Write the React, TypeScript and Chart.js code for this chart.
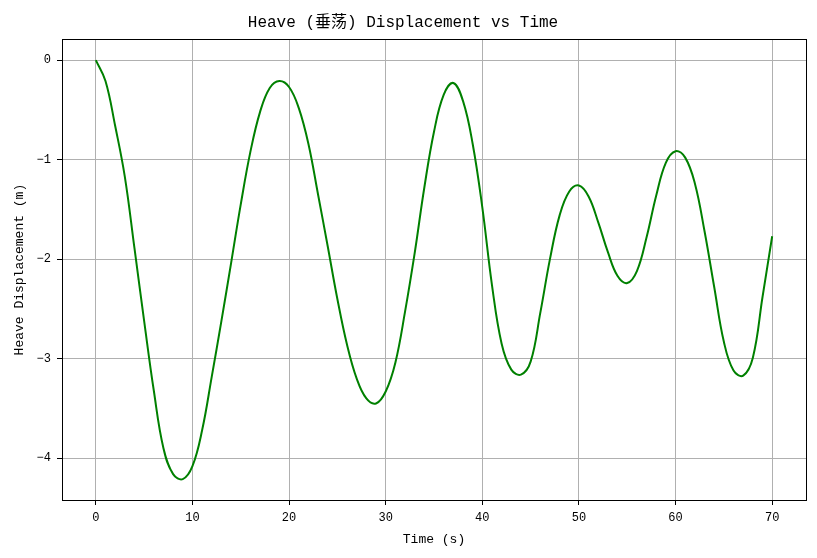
import React, { useEffect, useRef } from 'react';
import { Chart, registerables } from 'chart.js';

Chart.register(...registerables);

const times = [
  0, 1, 2, 3, 4, 5, 6, 7, 8, 9, 10, 11, 12, 13, 14, 15, 16, 17, 18, 19, 20, 21,
  22, 23, 24, 25, 26, 27, 28, 29, 30, 31, 32, 33, 34, 35, 36, 37, 38, 39, 40, 41,
  42, 43, 44, 45, 46, 47, 48, 49, 50, 51, 52, 53, 54, 55, 56, 57, 58, 59, 60, 61,
  62, 63, 64, 65, 66, 67, 68, 69, 70,
];
const heave = [
  0, -0.21, -0.66, -1.17, -1.89, -2.62, -3.32, -3.9, -4.16, -4.21, -4.08, -3.72,
  -3.18, -2.62, -2.04, -1.45, -0.92, -0.52, -0.28, -0.21, -0.27, -0.48, -0.84,
  -1.35, -1.87, -2.4, -2.86, -3.2, -3.4, -3.45, -3.33, -3.04, -2.53, -1.94,
  -1.28, -0.72, -0.35, -0.23, -0.41, -0.84, -1.48, -2.26, -2.85, -3.11, -3.16,
  -3.03, -2.54, -2.0, -1.56, -1.32, -1.26, -1.37, -1.63, -1.93, -2.17, -2.24,
  -2.12, -1.78, -1.36, -1.03, -0.915, -0.98, -1.24, -1.72, -2.28, -2.83, -3.12,
  -3.17, -2.99, -2.38, -1.77,
];

const xTicks = [0, 10, 20, 30, 40, 50, 60, 70];
const yTicks = [0, -1, -2, -3, -4];

const FONT = '"Liberation Mono", "Noto Sans CJK SC", monospace';

// matplotlib-style box around the axes
const frame = {
  id: 'frame',
  afterDatasetsDraw(chart: Chart) {
    const { ctx, chartArea } = chart;
    ctx.save();
    ctx.strokeStyle = '#000';
    ctx.lineWidth = 1;
    ctx.strokeRect(
      Math.round(chartArea.left) + 0.5,
      Math.round(chartArea.top) + 0.5,
      Math.round(chartArea.right - chartArea.left),
      Math.round(chartArea.bottom - chartArea.top)
    );
    ctx.restore();
  },
};

const App: React.FC = () => {
  const canvasRef = useRef<HTMLCanvasElement>(null);
  const chartRef = useRef<Chart | null>(null);

  useEffect(() => {
    document.body.style.margin = '0';
    if (!canvasRef.current) return;
    const ctx = canvasRef.current.getContext('2d');
    if (!ctx) return;

    chartRef.current = new Chart(ctx, {
      type: 'line',
      data: {
        datasets: [
          {
            label: 'Heave',
            data: times.map((t, i) => ({ x: t, y: heave[i] })),
            borderColor: '#008000',
            borderWidth: 2,
            pointRadius: 0,
            tension: 0.4,
            fill: false,
          },
        ],
      },
      options: {
        responsive: true,
        maintainAspectRatio: false,
        animation: false,
        layout: { padding: { left: 0, right: 11, top: 0, bottom: 0 } },
        plugins: {
          legend: { display: false },
          tooltip: { enabled: false },
          title: {
            display: true,
            text: 'Heave (垂荡) Displacement vs Time',
            color: '#000',
            font: { family: FONT, size: 16, weight: 'normal', lineHeight: 1.2 },
            padding: { top: 13, bottom: 7 },
          },
        },
        scales: {
          x: {
            type: 'linear',
            min: -3.5,
            max: 73.5,
            afterFit: (scale: any) => {
              scale.height = 58;
            },
            afterBuildTicks: (scale: any) => {
              scale.ticks = xTicks.map((v) => ({ value: v }));
            },
            ticks: {
              color: '#000',
              padding: 6,
              maxRotation: 0,
              font: { family: FONT, size: 12 },
            },
            grid: {
              color: '#b0b0b0',
              lineWidth: 1,
              tickColor: '#000',
              tickLength: 5,
            },
            border: { display: false },
            title: {
              display: true,
              text: 'Time (s)',
              color: '#000',
              font: { family: FONT, size: 13, lineHeight: 1.2 },
              padding: { top: 4, bottom: 11 },
            },
          },
          y: {
            type: 'linear',
            min: -4.42,
            max: 0.21,
            afterFit: (scale: any) => {
              scale.width = 62;
            },
            afterBuildTicks: (scale: any) => {
              scale.ticks = yTicks.map((v) => ({ value: v }));
            },
            ticks: {
              color: '#000',
              padding: 6,
              font: { family: FONT, size: 12 },
              callback: (v: any) => String(v).replace('-', '\u2212'),
            },
            grid: {
              color: '#b0b0b0',
              lineWidth: 1,
              tickColor: '#000',
              tickLength: 5,
            },
            border: { display: false },
            title: {
              display: true,
              text: 'Heave Displacement (m)',
              color: '#000',
              font: { family: FONT, size: 13, lineHeight: 1.2 },
              padding: { top: 12, bottom: 4 },
            },
          },
        },
      },
      plugins: [frame],
    });

    return () => {
      if (chartRef.current) {
        chartRef.current.destroy();
        chartRef.current = null;
      }
    };
  }, []);

  return (
    <div style={{ width: 817, height: 558, position: 'relative', background: '#fff' }}>
      <canvas ref={canvasRef} />
    </div>
  );
};

export default App;
